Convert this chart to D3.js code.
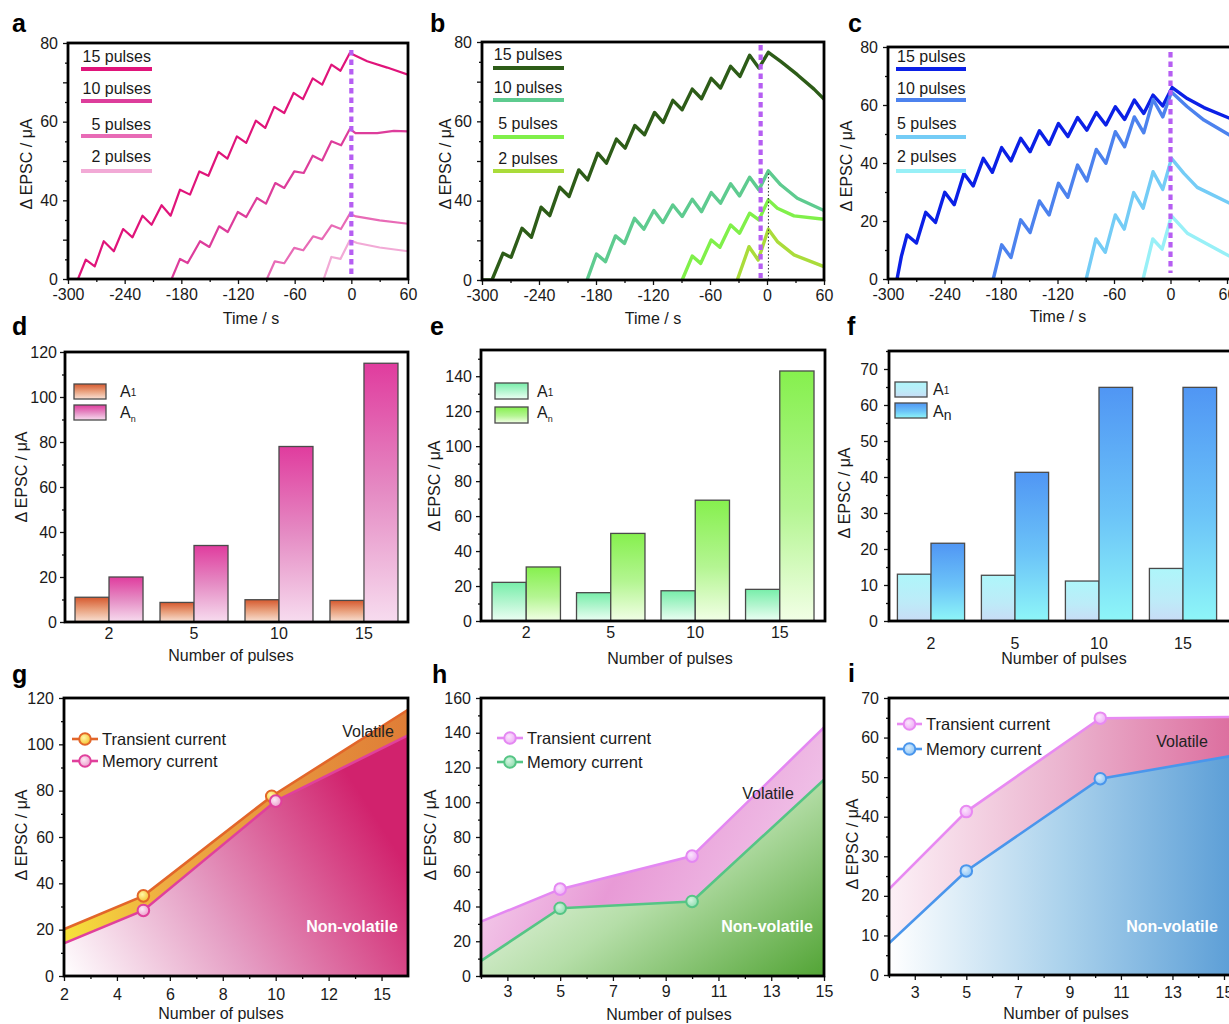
<!DOCTYPE html>
<html><head><meta charset="utf-8">
<script src="https://cdn.jsdelivr.net/npm/d3@7"></script>
<style>body{margin:0;background:#fff}svg{display:block}</style>
</head><body>
<script>
// ================= DATA =================
const timeTickVals = [-300,-240,-180,-120,-60,0,60];
const timeTickLabels = ["-300","-240","-180","-120","-60","0","60"];
const timeMinorVals = [-270,-210,-150,-90,-30,30];
const pulseLabels = ["15 pulses","10 pulses","5 pulses","2 pulses"];
const pulseCats = ["2","5","10","15"];

// panel a  [time s, ΔEPSC µA] (axis is re-labelled 0/40/60/80 in the source)
const aYTickVals = [0,20,40,60,80,100,120];
const aYTickLabels = ["0","","40","","60","","80"];
const a15 = [[-289.4,0],[-281.2,9.8],[-271.7,6.4],[-262.1,19.2],[-251.5,14.1],[-241.6,25.4],[-231.7,21.2],[-221.1,32.2],[-211.5,27.6],[-200.9,37.5],[-191.3,32.2],[-181.4,45.4],[-170.8,42.9],[-160.9,54.7],[-151.3,52.5],[-140.7,64.6],[-131.2,61.2],[-121.2,72.5],[-111.3,69.2],[-101.1,80.5],[-91.2,76.8],[-81.6,87.5],[-71.0,84.4],[-61.1,94.6],[-51.2,91.5],[-40.9,102.0],[-30.9,98.8],[-21.1,109.0],[-11.5,105.9],[-1.6,114.9],[16.8,110.7],[38,107.5],[60,103.9]];
const a10 = [[-190.3,0],[-181.4,10.2],[-173.3,8.1],[-160.2,19.2],[-150.3,16.3],[-140,26.8],[-130.8,23.9],[-120.2,34.1],[-111.3,31.5],[-100,41.2],[-90.4,38.3],[-80.5,48.8],[-71,46.3],[-60.4,54.7],[-50.4,53.9],[-40.9,62.7],[-30.9,60.3],[-21.1,70],[-10.8,68],[-1.6,76.3],[4.4,74.2],[27.4,74.2],[45,75.3],[60,75.1]];
const a5 = [[-89.4,0],[-81,9],[-71,8],[-60.5,15.8],[-51,14.6],[-40.5,21.7],[-31,20.3],[-21,27.3],[-11,25.4],[-1.6,33.1],[5,31.8],[30,29.8],[60,28.1]];
const a2 = [[-29.2,0],[-21.1,11.2],[-11.5,10.2],[-1.6,19.7],[6.2,18.3],[30,16],[60,14.1]];
const aDividerT = 0;

// panel b (axis re-labelled 0/40/60/80)
const bYTickVals = [0,25,50,75,100,125,150];
const bYTickLabels = ["0","","40","","60","","80"];
const b15 = [[-300,0],[-289.5,0],[-277.9,16.8],[-269.4,14.3],[-257.9,32.6],[-248,26.9],[-237.8,45.9],[-228.7,40.6],[-218.2,58.5],[-208.3,52.6],[-198.1,69.4],[-188.7,63.1],[-178.1,79.9],[-169,73.6],[-158.5,88.8],[-149.3,83.1],[-139.1,97.4],[-128.9,91.5],[-118.4,105.6],[-109.3,99.3],[-99.1,113.2],[-89.3,107.3],[-78.7,120.3],[-68.9,114.2],[-58.7,127.1],[-48.9,121],[-38.3,134.7],[-28.5,128.3],[-18.3,141.6],[-8.5,133.6],[1.4,143.5],[14.4,137.8],[31.9,129.4],[49.5,120.3],[60,114]];
const b10 = [[-189.4,0],[-179.5,16.4],[-170,11.6],[-159.5,27.8],[-150,23.1],[-139.5,38.9],[-129.6,32],[-119.1,43.8],[-109.6,36.2],[-99.1,47.3],[-89.3,40],[-78.7,50.9],[-68.9,43.1],[-58.7,55.1],[-48.9,48.4],[-38.3,60.6],[-28.9,53],[-18.3,64.8],[-8.5,56.8],[1.4,68.8],[14.4,60],[31.9,51.5],[60,43.8]];
const b5 = [[-89.3,0],[-78.7,15.1],[-69.8,10.5],[-58.7,25.2],[-49.6,20.6],[-38.3,34.7],[-28.9,29.5],[-18.3,42.1],[-8.5,37.9],[1.4,50.5],[10.9,45.2],[28.4,40.4],[60,38.3]];
const b2 = [[-31.3,0],[-18.9,21],[-9.3,12.6],[1.4,32],[10.9,24.2],[28.4,15.8],[60,8.4]];
const bDividerT = -6.7;
const bGuide = [1.5, 0, 68];

// panel c
const cYTickVals = [0,20,40,60,80];
const cYTickLabels = ["0","20","40","60","80"];
const c15 = [[-290.4,0],[-285.8,7.8],[-279.8,15.2],[-269.8,12.4],[-259.9,23],[-249.6,19.5],[-239.7,29.9],[-229.7,25.6],[-219.4,36.4],[-209.5,32.1],[-198.8,41.6],[-189.2,36.8],[-179.3,45.3],[-169.4,40.7],[-159.1,48.5],[-149.1,43.9],[-139.2,51.1],[-128.9,46.4],[-119,53.6],[-109,49.1],[-98.7,55.7],[-88.8,51.3],[-78.8,57.4],[-68.6,53.1],[-58.6,59.4],[-48.7,55],[-38.4,61.7],[-28.4,57.1],[-18.5,63.4],[-8.2,59.7],[1.8,66],[17.8,62.2],[35.5,59.1],[63,55.4]];
const c10 = [[-188.2,0],[-179.3,11.8],[-169.4,7.4],[-159.1,20.4],[-149.1,16],[-139.2,26.9],[-128.9,22.1],[-119,33],[-109,28.2],[-98.7,39.3],[-88.8,33.8],[-78.8,44.7],[-68.6,39.9],[-58.6,50.8],[-48.7,45.6],[-38.4,55.9],[-28.4,50.4],[-18.5,61.9],[-8.2,55.9],[1,64.5],[17.8,59.4],[35.5,54.8],[63,49.6]];
const c5 = [[-89.5,0],[-79.2,13.8],[-69.3,9.2],[-58.6,22.1],[-49.1,17.2],[-39.1,29.8],[-29.1,24.4],[-18.5,37],[-8.2,30.9],[1,41.6],[14.2,36.4],[28.4,31.6],[63,26.1]];
const c2 = [[-29.1,0],[-18.8,13.8],[-8.9,10.3],[1,21.8],[17.8,15.8],[63,7.8]];
const cDividerT = 0;

// bar panels d, e, f  (A1 first pulse, An last pulse)
const dA1 = [11, 8.7, 9.9, 9.6];
const dAn = [20, 34, 78, 115];
const eA1 = [22.1, 16.2, 17.3, 18.1];
const eAn = [30.9, 50.1, 69.1, 143];
const fA1 = [13, 12.7, 11.1, 14.6];
const fAn = [21.6, 41.3, 64.9, 64.9];

// panels g, h, i  (transient / memory current vs number of pulses)
const gTickVals = [2,4,6,8,10,12,14];
const gTickLabels = ["2","4","6","8","10","12","15"];
const gTransX = [2,5,9.85,15], gTrans = [20.2,34.6,77.6,114.9];
const gMemX   = [2,5,10,15],   gMem   = [14.1,28.3,75.5,103.9];
const hTickVals = [3,5,7,9,11,13,15];
const hTransX = [2,5,10,15], hTrans = [31.3,50,69,143];
const hMemX   = [2,5,10,15], hMem   = [8.7,39,42.9,113];
const iTransX = [2,5,10.2,15.5], iTrans = [21.7,41.3,64.9,65.2];
const iMemX   = [2,5,10.2,15.5], iMem   = [8,26.3,49.6,55.6];

// ================= DRAWING =================
const FONT = "'Liberation Sans', Arial, Helvetica, sans-serif";
const svg = d3.select("body").append("svg").attr("width",1229).attr("height",1024)
  .style("font-family",FONT);
const defs = svg.append("defs");

function linGrad(id, stops, x1=0,y1=0,x2=0,y2=1){
  const g = defs.append("linearGradient").attr("id",id)
    .attr("x1",x1).attr("y1",y1).attr("x2",x2).attr("y2",y2);
  stops.forEach(([o,c])=>g.append("stop").attr("offset",o).attr("stop-color",c));
}
function radGrad(id, inner, outer){
  const g = defs.append("radialGradient").attr("id",id).attr("cx",0.4).attr("cy",0.38).attr("r",0.65);
  g.append("stop").attr("offset",0).attr("stop-color",inner);
  g.append("stop").attr("offset",1).attr("stop-color",outer);
}
function clipRect(id,x0,y0,x1,y1){
  defs.append("clipPath").attr("id",id).append("rect")
    .attr("x",x0).attr("y",y0).attr("width",x1-x0).attr("height",y1-y0);
}
function styleAxis(ax){
  ax.select(".domain").remove();
  ax.selectAll("text").style("font-size","16px").style("font-family",FONT).attr("fill","#1a1a1a");
  ax.selectAll("line").attr("stroke","#111").attr("stroke-width",1.3);
}
function leftAxis(y, x, vals, labels, minor, pad){
  const ax = svg.append("g").attr("transform",`translate(${x},0)`)
    .call(d3.axisLeft(y).tickValues(vals).tickFormat((d,i)=>labels[i]).tickSize(5).tickPadding(pad));
  styleAxis(ax);
  if (minor){
    const m = svg.append("g").attr("transform",`translate(${x},0)`)
      .call(d3.axisLeft(y).tickValues(minor).tickFormat("").tickSize(3));
    styleAxis(m);
  }
}
function bottomAxis(x, y, vals, labels, minor, size, pad){
  const ax = svg.append("g").attr("transform",`translate(0,${y})`)
    .call(d3.axisBottom(x).tickValues(vals).tickFormat((d,i)=>labels[i]).tickSize(size).tickPadding(pad));
  styleAxis(ax);
  if (minor){
    const m = svg.append("g").attr("transform",`translate(0,${y})`)
      .call(d3.axisBottom(x).tickValues(minor).tickFormat("").tickSize(3));
    styleAxis(m);
  }
}
function frame(x0,y0,x1,y1){
  svg.append("rect").attr("x",x0).attr("y",y0).attr("width",x1-x0).attr("height",y1-y0)
    .attr("fill","none").attr("stroke","#000").attr("stroke-width",2.8);
}
function txt(t,x,y,opt={}){
  return svg.append("text").attr("x",x).attr("y",y).text(t)
    .attr("font-size",opt.size||16).attr("font-weight",opt.bold?"bold":"normal")
    .attr("text-anchor",opt.anchor||"start").attr("fill",opt.fill||"#1a1a1a");
}
function yTitle(x,y){
  svg.append("text").attr("transform",`translate(${x},${y}) rotate(-90)`)
    .attr("text-anchor","middle").attr("font-size",16).attr("fill","#1a1a1a").text("Δ EPSC / μA");
}
function panelLetter(t,x,y){ txt(t,x,y,{size:25,bold:true,fill:"#000"}); }

// ---------- time panels ----------
function timePanel(p){
  const x = d3.scaleLinear([-300,60],[p.x0,p.x1]);
  const y = d3.scaleLinear([0,p.yMax],[p.yb,p.yt]);
  clipRect(p.id+"clip", p.x0, p.yt, Math.min(p.fx1,1229), p.yb);
  const plot = svg.append("g").attr("clip-path",`url(#${p.id}clip)`);
  const line = d3.line().x(d=>x(d[0])).y(d=>y(d[1]));
  p.series.forEach((s,i)=>{
    plot.append("path").attr("d",line(s)).attr("fill","none")
      .attr("stroke",p.colors[i]).attr("stroke-width",p.lw).attr("stroke-linejoin","round");
  });
  if (p.guide){
    plot.append("line").attr("x1",x(p.guide[0])).attr("x2",x(p.guide[0]))
      .attr("y1",y(p.guide[1])).attr("y2",y(p.guide[2]))
      .attr("stroke","#333").attr("stroke-width",1).attr("stroke-dasharray","1.5,2");
  }
  plot.append("line").attr("x1",x(p.divT)).attr("x2",x(p.divT))
    .attr("y1",p.yt+p.divInset[0]).attr("y2",p.yb-p.divInset[1])
    .attr("stroke","#b65ef2").attr("stroke-width",4.2).attr("stroke-dasharray","5.5,4");
  leftAxis(y, p.x0, p.yVals, p.yLabels, p.yMinor, 5);
  bottomAxis(x, p.yb, timeTickVals, timeTickLabels, timeMinorVals, 5, 5);
  frame(p.x0, p.yt, p.fx1, p.yb);
  // legend
  pulseLabels.forEach((lab,i)=>{
    txt(lab, p.lgX, p.lgBase[i], {anchor:p.lgAnchor});
    svg.append("line").attr("x1",p.lgL[0]).attr("x2",p.lgL[1])
      .attr("y1",p.lgLine[i]).attr("y2",p.lgLine[i])
      .attr("stroke",p.colors[i]).attr("stroke-width",4);
  });
  yTitle(p.ytX, p.ytY);
  txt("Time / s", p.xtX, p.xtY, {anchor:"middle"});
}

timePanel({id:"a", x0:68, x1:408, fx1:408, yt:43, yb:279, yMax:120,
  series:[a15,a10,a5,a2], colors:["#e0147a","#dd3d9b","#e86bb6","#f2aad6"], lw:2.2,
  divT:aDividerT, divInset:[7,4],
  yVals:aYTickVals, yLabels:aYTickLabels, yMinor:[10,30,50,70,90,110],
  lgX:151, lgAnchor:"end", lgBase:[62,94,130,162], lgLine:[69,101,136,171], lgL:[81,152],
  ytX:32, ytY:164, xtX:251, xtY:324});

timePanel({id:"b", x0:482, x1:824, fx1:824, yt:42, yb:280, yMax:150,
  series:[b15,b10,b5,b2], colors:["#2d5c18","#5ecb8f","#80f04a","#aadc3a"], lw:3.4,
  divT:bDividerT, divInset:[3,2], guide:bGuide,
  yVals:bYTickVals, yLabels:bYTickLabels, yMinor:[12.5,37.5,62.5,87.5,112.5,137.5],
  lgX:528, lgAnchor:"middle", lgBase:[60,93,129,164], lgLine:[68,100,137,171], lgL:[493,564],
  ytX:451, ytY:164, xtX:653, xtY:324});

timePanel({id:"c", x0:888, x1:1227, fx1:1240, yt:47, yb:279, yMax:80,
  series:[c15,c10,c5,c2], colors:["#0b20e6","#4c82ee","#74ccf6","#98f0f7"], lw:3.4,
  divT:cDividerT, divInset:[5,6],
  yVals:cYTickVals, yLabels:cYTickLabels, yMinor:[10,30,50,70],
  lgX:897, lgAnchor:"start", lgBase:[62,94,129,162], lgLine:[69,100,137,171], lgL:[896,966],
  ytX:852, ytY:166, xtX:1058, xtY:322});

// ---------- bar panels ----------
function barPanel(p){
  const x = d3.scaleBand(pulseCats,[p.x0,p.bx1]).paddingInner(p.pi).paddingOuter(p.po);
  const xs = d3.scaleBand(["A1","An"],[0,x.bandwidth()]);
  const y = d3.scaleLinear([0,p.yMax],[p.yb,p.yt]);
  linGrad(p.id+"g1", p.c1);
  linGrad(p.id+"gn", p.cn);
  const plot = svg.append("g");
  [[p.A1,"A1",p.id+"g1"],[p.An,"An",p.id+"gn"]].forEach(([vals,key,gid])=>{
    plot.selectAll(null).data(vals).join("rect")
      .attr("x",(d,i)=>x(pulseCats[i])+xs(key)).attr("width",xs.bandwidth())
      .attr("y",d=>y(d)).attr("height",d=>y(0)-y(d))
      .attr("fill",`url(#${gid})`).attr("stroke","#4a4a4a").attr("stroke-width",1.3);
  });
  leftAxis(y, p.x0, p.yVals, p.yVals.map(String), p.yMinor, p.ypad);
  bottomAxis(x, p.yb, pulseCats, pulseCats, null, 0, p.xpad);
  frame(p.x0, p.yt, p.fx1, p.yb);
  // legend
  const L = p.lg;
  svg.append("rect").attr("x",L.x).attr("y",L.y1).attr("width",L.w).attr("height",L.h)
    .attr("fill",`url(#${p.id}g1)`).attr("stroke","#4a4a4a").attr("stroke-width",1.3);
  svg.append("rect").attr("x",L.x).attr("y",L.y2).attr("width",L.w).attr("height",L.h)
    .attr("fill",`url(#${p.id}gn)`).attr("stroke","#4a4a4a").attr("stroke-width",1.3);
  const t1 = txt("A", L.tx, L.b1);
  t1.append("tspan").attr("font-size",10).attr("dy",-1).text("1");
  const t2 = txt("A", L.tx, L.b2);
  t2.append("tspan").attr("font-size",L.nSize).attr("dy",L.nDy).text("n");
  yTitle(p.ytX, p.ytY);
  txt("Number of pulses", p.xtX, p.xtY, {anchor:"middle"});
}

barPanel({id:"d", x0:65, bx1:408, fx1:408, yt:352, yb:622, yMax:120, pi:0.2, po:0.118,
  A1:dA1, An:dAn,
  c1:[[0,"#d6592f"],[0.5,"#e9a27f"],[1,"#f9e2d6"]],
  cn:[[0,"#e03c9e"],[0.5,"#e58cc4"],[1,"#f7dcef"]],
  yVals:[0,20,40,60,80,100,120], yMinor:[10,30,50,70,90,110], ypad:3, xpad:6,
  lg:{x:74,y1:384,y2:405,w:32,h:15,tx:120,b1:397,b2:418,nSize:9,nDy:4},
  ytX:27, ytY:477, xtX:231, xtY:661});

barPanel({id:"e", x0:481, bx1:825, fx1:825, yt:350, yb:621, yMax:155, pi:0.19, po:0.13,
  A1:eA1, An:eAn,
  c1:[[0,"#78eeaa"],[0.55,"#b8f6d2"],[1,"#ecfff4"]],
  cn:[[0,"#86f04e"],[0.55,"#b4f592"],[1,"#f2ffe6"]],
  yVals:[0,20,40,60,80,100,120,140], yMinor:[10,30,50,70,90,110,130,150], ypad:4, xpad:6,
  lg:{x:495,y1:383,y2:407,w:33,h:16,tx:537,b1:397,b2:418,nSize:9,nDy:4},
  ytX:440, ytY:486, xtX:670, xtY:664});

barPanel({id:"f", x0:889, bx1:1225, fx1:1240, yt:351, yb:621, yMax:75, pi:0.2, po:0.1,
  A1:fA1, An:fAn,
  c1:[[0,"#aef6fa"],[0.6,"#bdebf8"],[1,"#c8dcf6"]],
  cn:[[0,"#5096f4"],[0.55,"#6cc4f8"],[1,"#8ef6f8"]],
  yVals:[0,10,20,30,40,50,60,70], yMinor:[5,15,25,35,45,55,65,75], ypad:6, xpad:17,
  lg:{x:895,y1:382,y2:403,w:32,h:15,tx:933,b1:395,b2:417,nSize:14,nDy:3},
  ytX:850, ytY:493, xtX:1064, xtY:664});

// ---------- transient / memory panels ----------
function memPanel(p){
  const x = d3.scaleLinear([2,15],[p.x0,p.x1]);
  const y = d3.scaleLinear([0,p.yMax],[p.yb,p.yt]);
  clipRect(p.id+"clip", p.x0, p.yt, Math.min(p.fx1,1229), p.yb);
  linGrad(p.id+"under", p.under.stops, ...p.under.dir);
  linGrad(p.id+"band", p.band.stops, ...p.band.dir);
  radGrad(p.id+"mt", p.mt[0], p.mt[1]);
  radGrad(p.id+"mm", p.mm[0], p.mm[1]);
  const tr = p.trX.map((v,i)=>[v,p.tr[i]]);
  const me = p.meX.map((v,i)=>[v,p.me[i]]);
  const plot = svg.append("g").attr("clip-path",`url(#${p.id}clip)`);
  plot.append("path").attr("d", d3.area().x(d=>x(d[0])).y0(y(0)).y1(d=>y(d[1]))(me))
    .attr("fill",`url(#${p.id}under)`);
  const line = d3.line().x(d=>x(d[0])).y(d=>y(d[1]));
  plot.append("path").attr("d", line(tr.concat(me.slice().reverse()))+"Z")
    .attr("fill",`url(#${p.id}band)`);
  plot.append("path").attr("d",line(tr)).attr("fill","none").attr("stroke",p.ct).attr("stroke-width",2.6);
  plot.append("path").attr("d",line(me)).attr("fill","none").attr("stroke",p.cm).attr("stroke-width",2.6);
  const inner = d=>d[0]>2 && d[0]<15;
  plot.selectAll(null).data(tr.filter(inner)).join("circle")
    .attr("cx",d=>x(d[0])).attr("cy",d=>y(d[1])).attr("r",5.8)
    .attr("fill",`url(#${p.id}mt)`).attr("stroke",p.ct).attr("stroke-width",2);
  plot.selectAll(null).data(me.filter(inner)).join("circle")
    .attr("cx",d=>x(d[0])).attr("cy",d=>y(d[1])).attr("r",5.8)
    .attr("fill",`url(#${p.id}mm)`).attr("stroke",p.cm).attr("stroke-width",2);
  txt("Volatile", p.vol[0], p.vol[1], {anchor:"middle", fill:"#222"});
  txt("Non-volatile", p.nv[0], p.nv[1], {anchor:"middle", bold:true, fill:"#fff"});
  leftAxis(y, p.x0, p.yVals, p.yVals.map(String), p.yMinor, 5);
  bottomAxis(x, p.yb, p.xVals, p.xLabels, p.xMinor, 5, p.xpad);
  frame(p.x0, p.yt, p.fx1, p.yb);
  // legend
  const L = p.lg;
  [[L.y1,p.ct,p.id+"mt","Transient current"],[L.y2,p.cm,p.id+"mm","Memory current"]].forEach(([yy,c,gid,lab])=>{
    svg.append("line").attr("x1",L.x0).attr("x2",L.x1).attr("y1",yy).attr("y2",yy)
      .attr("stroke",c).attr("stroke-width",2.6);
    svg.append("circle").attr("cx",(L.x0+L.x1)/2).attr("cy",yy).attr("r",5.8)
      .attr("fill",`url(#${gid})`).attr("stroke",c).attr("stroke-width",2);
    txt(lab, L.x1+4, yy+6, {size:16.5});
  });
  yTitle(p.ytX, p.ytY);
  txt("Number of pulses", p.xtX, p.xtY, {anchor:"middle"});
}

memPanel({id:"g", x0:64, x1:408, fx1:408, yt:698, yb:976, yMax:120,
  trX:gTransX, tr:gTrans, meX:gMemX, me:gMem, ct:"#e2662a", cm:"#e0409c",
  under:{dir:[0,1,1,0.55], stops:[[0,"#ffffff"],[0.45,"#e59ec4"],[1,"#d1226d"]]},
  band:{dir:[0,0,1,0], stops:[[0,"#f6e23a"],[0.3,"#eeab42"],[1,"#df7d37"]]},
  mt:["#fff7a8","#f4c02c"], mm:["#fdeaf6","#eb9ccb"],
  yVals:[0,20,40,60,80,100,120], yMinor:[10,30,50,70,90,110],
  xVals:gTickVals, xLabels:gTickLabels, xMinor:[3,5,7,9,11,13], xpad:8,
  vol:[368,737], nv:[352,932],
  lg:{x0:72,x1:98,y1:739,y2:761},
  ytX:27, ytY:835, xtX:221, xtY:1019});

memPanel({id:"h", x0:481, x1:824, fx1:824, yt:698, yb:976, yMax:160,
  trX:hTransX, tr:hTrans, meX:hMemX, me:hMem, ct:"#e488f2", cm:"#55c585",
  under:{dir:[0,0.2,1,1], stops:[[0,"#ffffff"],[0.5,"#b5dea8"],[1,"#52a435"]]},
  band:{dir:[0,0,1,0.35], stops:[[0,"#fae9f6"],[0.55,"#e89ad6"],[1,"#f0c2e8"]]},
  mt:["#fbe6fd","#eeaaf6"], mm:["#d4f4e0","#8fdcaf"],
  yVals:[0,20,40,60,80,100,120,140,160], yMinor:[10,30,50,70,90,110,130,150],
  xVals:hTickVals, xLabels:hTickVals.map(String), xMinor:[2,4,6,8,10,12,14], xpad:5,
  vol:[768,799], nv:[767,932],
  lg:{x0:497,x1:523,y1:738,y2:762},
  ytX:436, ytY:835, xtX:669, xtY:1020});

memPanel({id:"i", x0:889, x1:1224, fx1:1240, yt:698, yb:975, yMax:70,
  trX:iTransX, tr:iTrans, meX:iMemX, me:iMem, ct:"#e88af2", cm:"#4a96ec",
  under:{dir:[0,0,1,0], stops:[[0,"#ffffff"],[0.5,"#abd2ec"],[1,"#5a9dd6"]]},
  band:{dir:[0,0,1,0], stops:[[0,"#fcf0f6"],[0.5,"#ebb4cf"],[1,"#dc6c9d"]]},
  mt:["#fbe6fd","#eeaaf6"], mm:["#d8ecfc","#8cc4f6"],
  yVals:[0,10,20,30,40,50,60,70], yMinor:[5,15,25,35,45,55,65],
  xVals:hTickVals, xLabels:hTickVals.map(String), xMinor:[2,4,6,8,10,12,14], xpad:7,
  vol:[1182,747], nv:[1172,932],
  lg:{x0:897,x1:922,y1:724,y2:749},
  ytX:858, ytY:844, xtX:1066, xtY:1019});

// panel letters
[["a",12,32],["b",430,32],["c",848,32],["d",12,335],["e",430,335],["f",847,335],
 ["g",12,683],["h",432,683],["i",848,682]].forEach(([t,x,y])=>panelLetter(t,x,y));
</script>
</body></html>
